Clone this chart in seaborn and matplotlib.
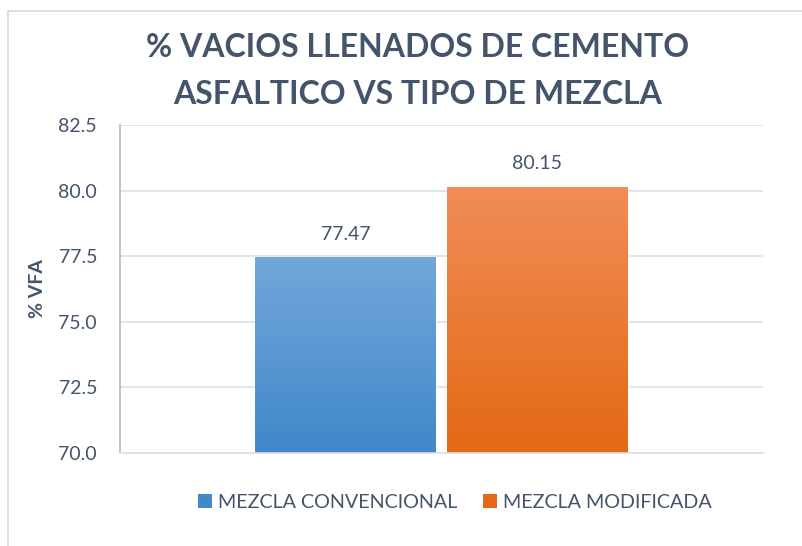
import matplotlib
matplotlib.use('Agg')
import matplotlib.pyplot as plt
from matplotlib.colors import LinearSegmentedColormap
from matplotlib.patches import Rectangle
import numpy as np
import pandas as pd
import seaborn as sns

# Data
mezclas = ['MEZCLA CONVENCIONAL', 'MEZCLA MODIFICADA']
vfa = [77.47, 80.15]
etiquetas = ['77.47', '80.15']
y_ticks = [70.0, 72.5, 75.0, 77.5, 80.0, 82.5]

# gradient colours (top, bottom) for each bar
gradientes = [('#73A7DB', '#4088CA'), ('#F18D57', '#E36914')]

sns.set_style('white')
plt.rcParams['font.family'] = ['Lato', 'DejaVu Sans']
txt = '#44546A'

df = pd.DataFrame({'grupo': [''] * 2, 'Mezcla': mezclas, 'VFA': vfa})

fig = plt.figure(figsize=(8.03, 5.46), dpi=100)
ax = fig.add_axes([120 / 803, 1 - 453 / 546, 643 / 803, 328 / 546])

palette = {m: g[1] for m, g in zip(mezclas, gradientes)}
sns.barplot(data=df, x='grupo', y='VFA', hue='Mezcla', palette=palette,
            width=0.597, gap=0.057, ax=ax, legend=True)

ax.set_ylim(70, 82.5)
ax.set_xlim(-0.5, 0.5)
ax.set_yticks(y_ticks)
ax.set_yticklabels([f'{t:.1f}' for t in y_ticks], color=txt, fontsize=14)
ax.tick_params(axis='y', length=0, pad=16.5)
ax.tick_params(axis='x', length=0, labelbottom=False)
ax.set_xlabel('')
ax.set_ylabel('% VFA', fontsize=14, fontweight='bold', color=txt, labelpad=9)
ax.grid(axis='y', color='#DCDFE4', linewidth=1.2)
ax.set_axisbelow(True)
for s in ['top', 'right']:
    ax.spines[s].set_visible(False)
ax.spines['bottom'].set_color('#DCDFE4')
ax.spines['bottom'].set_linewidth(1.2)
ax.spines['left'].set_color('#B4BAC4')
ax.spines['left'].set_linewidth(1.2)

# gradient fill on bars
bars = [p for p in ax.patches if p.get_height() > 0]
for bar, (c_top, c_bot), lab in zip(bars, gradientes, etiquetas):
    x0, y0 = bar.get_x(), bar.get_y()
    w, h = bar.get_width(), bar.get_height()
    cmap = LinearSegmentedColormap.from_list('g', [c_bot, c_top])
    grad = np.linspace(0, 1, 256).reshape(-1, 1)
    im = ax.imshow(grad, cmap=cmap, aspect='auto', origin='lower',
                   extent=[x0, x0 + w, 70, y0 + h], zorder=bar.get_zorder() + 0.1)
    im.set_clip_path(bar)
    ax.text(x0 + w / 2, y0 + h + 0.55, lab, ha='center', va='bottom',
            fontsize=14, color=txt)

ax.set_xlim(-0.5, 0.5)
ax.set_ylim(70, 82.5)

# legend
handles = [Rectangle((0, 0), 1, 1, facecolor=g[1], edgecolor='none') for g in gradientes]
ax.legend(handles, mezclas, loc='center', bbox_to_anchor=(455 / 803, 1 - 502 / 546),
          bbox_transform=fig.transFigure, ncol=2, frameon=False, fontsize=14.2,
          labelcolor=txt, handlelength=0.7, handleheight=0.7, handletextpad=0.3,
          columnspacing=1.3)

fig.text(418 / 803, 1 - 71 / 546, '% VACIOS LLENADOS DE CEMENTO\nASFALTICO VS TIPO DE MEZCLA',
         ha='center', va='center', fontsize=23, fontweight='bold', color=txt,
         linespacing=1.75)

# chart border
fig.patches.append(Rectangle((8 / 803, -0.05), 1.1, 1 - 11 / 546 + 0.05,
                             transform=fig.transFigure, fill=False,
                             edgecolor='#D9D9D9', linewidth=1.2))

fig.savefig('out.png', dpi=100, facecolor='white')
plt.close(fig)
